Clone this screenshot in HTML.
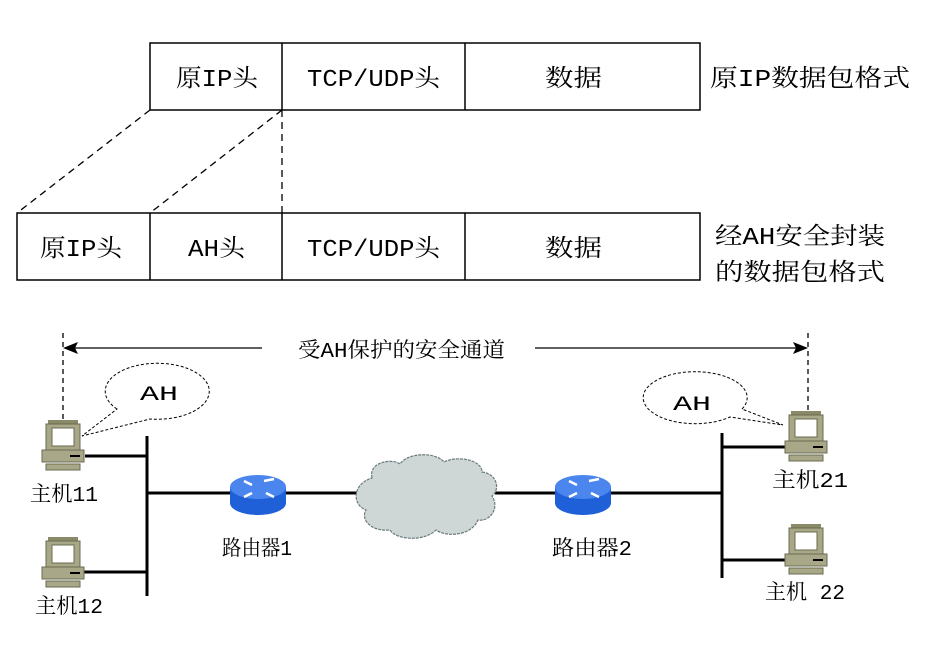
<!DOCTYPE html>
<html><head><meta charset="utf-8"><style>
body{margin:0;background:#fff}
svg{display:block}
text{font-family:"Liberation Mono","Noto Serif CJK SC",serif;fill:#000}
</style></head><body>
<svg width="944" height="648" viewBox="0 0 944 648" xmlns="http://www.w3.org/2000/svg">
<defs>
<g id="pc">
<rect x="6" y="0" width="30" height="4" fill="#8a8a68"/>
<rect x="4" y="4" width="34" height="26" fill="#a8a888" stroke="#6a6a50"/>
<rect x="10" y="8" width="22" height="18" fill="#fff" stroke="#6a6a50"/>
<rect x="0" y="30" width="42" height="12" fill="#a8a888" stroke="#6a6a50"/>
<line x1="28" y1="36" x2="38" y2="36" stroke="#000" stroke-width="2"/>
<rect x="4" y="44" width="34" height="6" fill="#a8a888" stroke="#6a6a50"/>
</g>
<g id="rt">
<path d="M0 12 V28 A28 12 0 0 0 56 28 V12 Z" fill="#1f5fd8"/>
<ellipse cx="28" cy="12" rx="28" ry="12" fill="#4a86ee"/>
<g stroke="#fff" stroke-width="2.5" fill="none">
<path d="M14 6 L22 10 M36 18 L44 22 M34 6 L44 4 M14 22 L22 18"/>
</g>
</g>
</defs>
<g fill="none" stroke="#000" stroke-width="1.5">
<rect x="150" y="43" width="550" height="67"/>
<line x1="282" y1="43" x2="282" y2="110"/>
<line x1="465" y1="43" x2="465" y2="110"/>
<rect x="17" y="213" width="683" height="67"/>
<line x1="150" y1="213" x2="150" y2="280"/>
<line x1="282" y1="213" x2="282" y2="280"/>
<line x1="465" y1="213" x2="465" y2="280"/>
</g>
<g stroke="#000" stroke-width="1.3" stroke-dasharray="7,5" fill="none">
<line x1="150" y1="110" x2="17" y2="213"/>
<line x1="282" y1="110" x2="150" y2="213"/>
<line x1="282" y1="110" x2="282" y2="213"/>
<line x1="63" y1="333" x2="63" y2="420" stroke-dasharray="5,4"/>
<line x1="808" y1="333" x2="808" y2="410" stroke-dasharray="5,4"/>
</g>
<g font-size="24" lengthAdjust="spacingAndGlyphs">
<text x="176" y="86" textLength="82" lengthAdjust="spacingAndGlyphs">原IP头</text>
<text x="307" y="86" textLength="133" lengthAdjust="spacingAndGlyphs">TCP/UDP头</text>
<text x="545" y="86" textLength="57" lengthAdjust="spacingAndGlyphs">数据</text>
<text x="40" y="256" textLength="82" lengthAdjust="spacingAndGlyphs">原IP头</text>
<text x="188" y="256" textLength="57" lengthAdjust="spacingAndGlyphs">AH头</text>
<text x="307" y="256" textLength="133" lengthAdjust="spacingAndGlyphs">TCP/UDP头</text>
<text x="545" y="256" textLength="57" lengthAdjust="spacingAndGlyphs">数据</text>
<text x="710" y="86" textLength="200" lengthAdjust="spacingAndGlyphs">原IP数据包格式</text>
<text x="715" y="244" textLength="170" lengthAdjust="spacingAndGlyphs">经AH安全封装</text>
<text x="715" y="280" textLength="170" lengthAdjust="spacingAndGlyphs">的数据包格式</text>
</g>
<line x1="70" y1="348" x2="262" y2="348" stroke="#000" stroke-width="1.3"/>
<line x1="535" y1="348" x2="800" y2="348" stroke="#000" stroke-width="1.3"/>
<path d="M63 348 L78 342 L75 348 L78 354 Z" fill="#000"/>
<path d="M808 348 L793 342 L796 348 L793 354 Z" fill="#000"/>
<text x="298" y="357" font-size="21" textLength="207" lengthAdjust="spacingAndGlyphs">受AH保护的安全通道</text>
<g fill="#fff" stroke="#000" stroke-width="1" stroke-dasharray="3,2">
<path d="M117 409 A52 28 0 1 1 150 419 L82 436 Z"/>
<path d="M742 409 A52 26 0 1 0 730 417 L783 425 Z"/>
</g>
<text x="140" y="400" font-size="20" textLength="38" lengthAdjust="spacingAndGlyphs">AH</text>
<text x="673" y="410" font-size="20" textLength="38" lengthAdjust="spacingAndGlyphs">AH</text>
<g stroke="#000" stroke-width="3" fill="none">
<line x1="147" y1="436" x2="147" y2="596"/>
<line x1="85" y1="456" x2="147" y2="456"/>
<line x1="75" y1="572" x2="147" y2="572"/>
<line x1="147" y1="493" x2="232" y2="493"/>
<line x1="285" y1="493" x2="365" y2="493"/>
<line x1="495" y1="493" x2="557" y2="493"/>
<line x1="610" y1="493" x2="722" y2="493"/>
<line x1="722" y1="433" x2="722" y2="578"/>
<line x1="722" y1="447" x2="787" y2="447"/>
<line x1="722" y1="560" x2="787" y2="560"/>
</g>
<use href="#pc" x="42" y="420"/>
<use href="#pc" x="42" y="537"/>
<use href="#pc" x="785" y="411"/>
<use href="#pc" x="785" y="524"/>
<use href="#rt" x="230" y="475"/>
<use href="#rt" x="555" y="475"/>
<path d="M372 478 C368 462 392 458 400 464 C408 452 436 452 444 462 C458 455 482 460 482 472 C498 474 500 490 492 496 C500 508 490 522 478 520 C472 535 448 538 436 530 C424 542 396 540 390 530 C372 532 360 520 366 510 C352 505 352 484 372 478 Z" fill="#cfd6d6" stroke="#6a7a7a" stroke-width="1.2" stroke-dasharray="3,1"/>
<g font-size="21">
<text x="30" y="501" textLength="68" lengthAdjust="spacingAndGlyphs">主机11</text>
<text x="35" y="613" textLength="68" lengthAdjust="spacingAndGlyphs">主机12</text>
<text x="222" y="555" textLength="70" lengthAdjust="spacingAndGlyphs">路由器1</text>
<text x="552" y="555" textLength="80" lengthAdjust="spacingAndGlyphs">路由器2</text>
<text x="772" y="487" textLength="76" lengthAdjust="spacingAndGlyphs">主机21</text>
<text x="765" y="599" textLength="80" lengthAdjust="spacingAndGlyphs">主机 22</text>
</g>
</svg>
</body></html>
